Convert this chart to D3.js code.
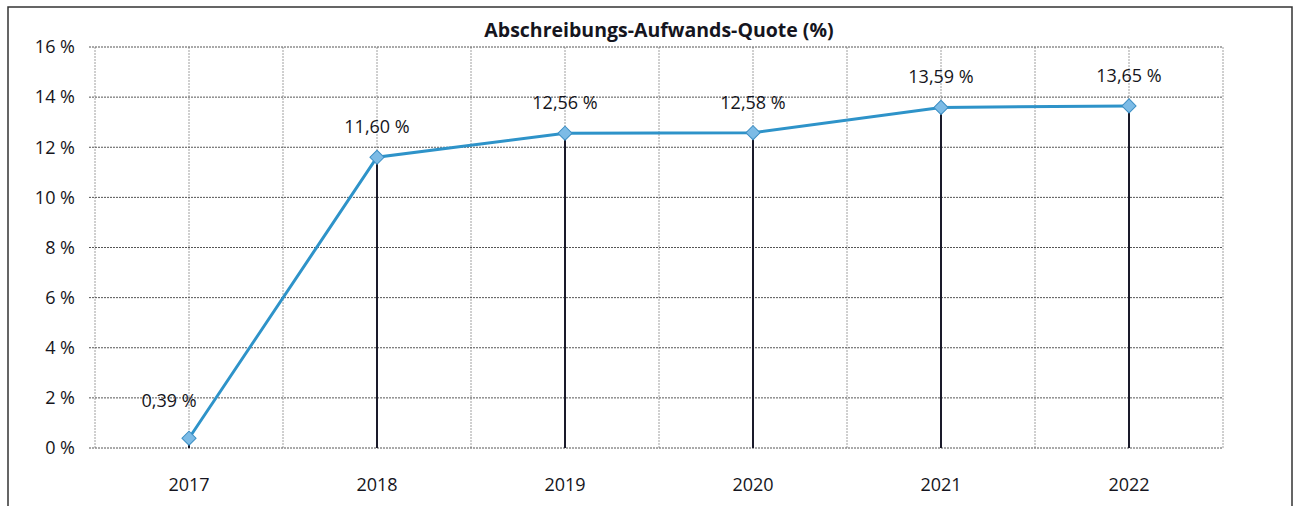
<!DOCTYPE html>
<html>
<head>
<meta charset="utf-8">
<script src="https://cdn.jsdelivr.net/npm/d3@7"></script>
<style>
  body { margin: 0; background: #fff; }
  svg { display: block; font-family: "Open Sans", "DejaVu Sans", sans-serif; }
</style>
</head>
<body>
<svg id="chart" width="1299" height="506"></svg>
<script>
const years = ["2017", "2018", "2019", "2020", "2021", "2022"];
const quote = [0.39, 11.60, 12.56, 12.58, 13.59, 13.65];
const yTicks = [0, 2, 4, 6, 8, 10, 12, 14, 16];
const title = "Abschreibungs-Aufwands-Quote (%)";

const svg = d3.select("#chart");
const margin = { left: 95, right: 1223, top: 47, bottom: 448 };

const fmt = v => v.toFixed(2).replace(".", ",") + " %";

// outer frame
svg.append("rect")
    .attr("x", 8).attr("y", 7)
    .attr("width", 1284).attr("height", 510)
    .attr("fill", "none")
    .attr("stroke", "#333")
    .attr("stroke-width", 1.5);

svg.append("text")
    .attr("x", 659).attr("y", 37)
    .attr("text-anchor", "middle")
    .style("font-size", "19.5px")
    .style("font-weight", "bold")
    .attr("fill", "#151520")
    .text(title);

let x = d3.scaleBand()
    .domain(years)
    .range([margin.left, margin.right]);

let y = d3.scaleLinear()
    .domain([0, 16])
    .range([margin.bottom, margin.top]);

let cx = d => x(d) + x.bandwidth() / 2;

// vertical grid: band edges and centers
let vLines = [];
years.forEach(d => { vLines.push(x(d)); vLines.push(cx(d)); });
vLines.push(margin.right);

svg.append("g").selectAll("line")
    .data(vLines)
    .enter().append("line")
    .attr("x1", d => d).attr("x2", d => d)
    .attr("y1", margin.top).attr("y2", margin.bottom)
    .attr("stroke", "#a0a0a0")
    .attr("stroke-width", 1)
    .attr("stroke-dasharray", "2,1");

// horizontal grid
svg.append("g").selectAll("line")
    .data(yTicks)
    .enter().append("line")
    .attr("x1", margin.left - 6).attr("x2", margin.right)
    .attr("y1", d => y(d)).attr("y2", d => y(d))
    .attr("stroke", "#555")
    .attr("stroke-width", 1)
    .attr("stroke-dasharray", "2,1");

// y labels
svg.append("g").selectAll("text")
    .data(yTicks)
    .enter().append("text")
    .attr("x", 75)
    .attr("y", d => y(d))
    .attr("dy", "0.35em")
    .attr("text-anchor", "end")
    .style("font-size", "18px")
    .attr("fill", "#151520")
    .text(d => d + " %");

// x labels
svg.append("g").selectAll("text")
    .data(years)
    .enter().append("text")
    .attr("x", d => cx(d))
    .attr("y", 491)
    .attr("text-anchor", "middle")
    .style("font-size", "18px")
    .attr("fill", "#151520")
    .text(d => d);

let points = years.map((d, i) => ({ year: d, value: quote[i] }));

// drop lines
svg.append("g").selectAll("line")
    .data(points)
    .enter().append("line")
    .attr("x1", d => cx(d.year)).attr("x2", d => cx(d.year))
    .attr("y1", d => y(d.value)).attr("y2", margin.bottom)
    .attr("stroke", "#1a1a2a")
    .attr("stroke-width", 2);

// series line
let line = d3.line()
    .x(d => cx(d.year))
    .y(d => y(d.value));

svg.append("path")
    .datum(points)
    .attr("d", line)
    .attr("fill", "none")
    .attr("stroke", "#2e93c9")
    .attr("stroke-width", 3);

// diamond markers
svg.append("g").selectAll("path")
    .data(points)
    .enter().append("path")
    .attr("d", d3.symbol().type(d3.symbolSquare).size(100))
    .attr("transform", d => `translate(${cx(d.year)},${y(d.value)}) rotate(45)`)
    .attr("fill", "#7cbbe6")
    .attr("stroke", "#3d8fc4")
    .attr("stroke-width", 1);

// data labels
svg.append("g").selectAll("text")
    .data(points)
    .enter().append("text")
    .attr("x", (d, i) => cx(d.year) - (i === 0 ? 20 : 0))
    .attr("y", (d, i) => y(d.value) - (i === 0 ? 31 : 24))
    .attr("text-anchor", "middle")
    .style("font-size", "18px")
    .attr("fill", "#151520")
    .text(d => fmt(d.value));
</script>
</body>
</html>
